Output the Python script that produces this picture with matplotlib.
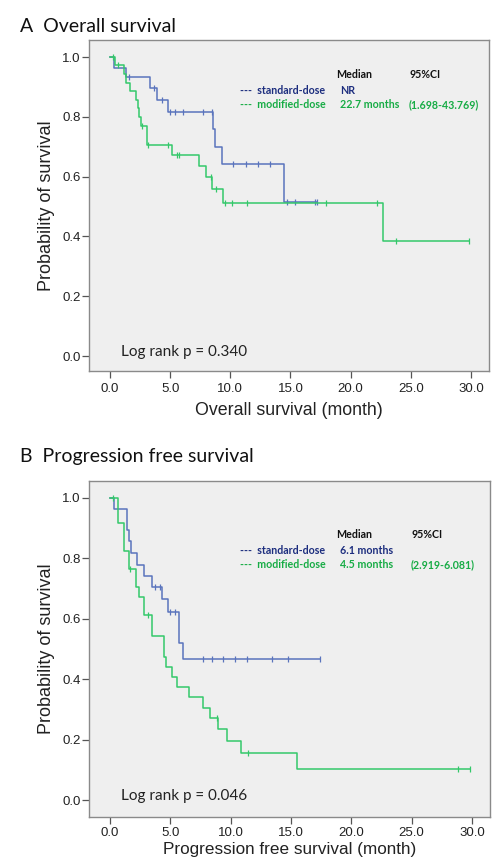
import numpy as np
import matplotlib
matplotlib.use('Agg')
import matplotlib.pyplot as plt

# ---------------- data ----------------
# Overall survival
os_std_times = [0.36, 1.33, 3.33, 3.88, 4.79, 8.53, 8.73, 9.28, 14.5]
os_std_surv = [0.964, 0.932, 0.895, 0.856, 0.816, 0.758, 0.698, 0.642, 0.514]
os_std_cens = [1.6, 3.68, 4.3, 5.0, 5.4, 6.04, 7.75, 8.44, 10.25, 11.3, 12.3,
               13.3, 14.7, 15.4, 17.0, 17.2]

os_mod_times = [0.4, 1.19, 1.3, 1.66, 2.16, 2.3, 2.45, 2.55, 3.05, 5.17, 7.42,
                7.95, 8.5, 9.42, 22.7]
os_mod_surv = [0.972, 0.943, 0.914, 0.886, 0.857, 0.829, 0.800, 0.771, 0.706,
               0.672, 0.635, 0.600, 0.559, 0.513, 0.385]
os_mod_cens = [0.28, 0.69, 2.63, 3.19, 4.85, 5.54, 5.74, 8.4, 8.8, 9.55, 10.1,
               11.35, 17.95, 22.2, 23.8, 29.8]

# Progression free survival
pfs_std_times = [0.36, 1.44, 1.57, 1.74, 2.26, 2.84, 3.45, 4.34, 4.78, 5.74, 6.08]
pfs_std_surv = [0.964, 0.893, 0.857, 0.817, 0.778, 0.742, 0.706, 0.664, 0.621,
                0.519, 0.466]
pfs_std_cens = [3.73, 4.14, 4.97, 5.39, 7.73, 8.42, 9.39, 10.36, 11.33, 13.4,
                14.72, 17.4]

pfs_mod_times = [0.69, 1.19, 1.6, 2.15, 2.43, 2.84, 3.5, 4.5, 4.64, 5.11, 5.58,
                 6.57, 7.68, 8.3, 8.92, 9.67, 10.9, 15.47]
pfs_mod_surv = [0.916, 0.824, 0.765, 0.706, 0.673, 0.613, 0.544, 0.475, 0.441,
                0.406, 0.373, 0.340, 0.306, 0.270, 0.234, 0.195, 0.155, 0.104]
pfs_mod_cens = [0.25, 1.65, 3.18, 8.88, 11.46, 28.86, 29.88]

x_ticks = [0, 5, 10, 15, 20, 25, 30]
y_ticks = [0.0, 0.2, 0.4, 0.6, 0.8, 1.0]

group_labels = ['standard-dose', 'modified-dose']
os_medians = ['NR', '22.7 months']
os_ci = ['', '(1.698-43.769)']
pfs_medians = ['6.1 months', '4.5 months']
pfs_ci = ['', '(2.919-6.081)']
os_p = 'Log rank p = 0.340'
pfs_p = 'Log rank p = 0.046'

# ---------------- style ----------------
W, H = 496, 859
BLUE_LINE = '#5a74bd'
GREEN_LINE = '#34c86a'
BLUE_TXT = '#1c2d7e'
GREEN_TXT = '#17ac45'
BG = '#efefef'
SANS = 'Liberation Sans'
CAL = 'Lato'

fig = plt.figure(figsize=(W / 100, H / 100), dpi=100)
fig.patch.set_facecolor('white')


def px(x, y):
    return x / W, 1 - y / H


def km(ax, times, surv, cens, color):
    t = np.r_[0.0, times]
    s = np.r_[1.0, surv]
    end = max(max(cens), max(times))
    ax.step(np.r_[t, end], np.r_[s, s[-1]], where='post', color=color, lw=1.1)
    idx = np.searchsorted(t, cens, side='right') - 1
    ax.plot(cens, s[idx], ls='none', marker='|', ms=5, mew=0.9, color=color)


def style(ax, xlabel, xlab_y, xfs, xpad):
    ax.set_facecolor(BG)
    for sp in ax.spines.values():
        sp.set_color('#8a8a8a')
        sp.set_linewidth(1.0)
    ax.set_xticks(x_ticks)
    ax.set_xticklabels([f'{v:.1f}' for v in x_ticks])
    ax.set_yticks(y_ticks)
    ax.set_yticklabels([f'{v:.1f}' for v in y_ticks])
    ax.tick_params(axis='both', direction='out', length=5, width=0.9,
                   color='#555555', labelsize=9.5, labelcolor='#222222')
    ax.tick_params(axis='y', pad=1)
    ax.tick_params(axis='x', pad=xpad)
    for lab in ax.get_xticklabels() + ax.get_yticklabels():
        lab.set_fontfamily(SANS)
    ax.set_xlabel(xlabel, fontsize=xfs, fontfamily=SANS, color='#222222')
    ax.set_ylabel('Probability of survival', fontsize=13, fontfamily=SANS,
                  color='#222222')
    ax.xaxis.set_label_coords(0.5, xlab_y)
    ax.yaxis.set_label_coords(-0.085, 0.5)


# ---------------- panel A ----------------
axA = fig.add_axes([89 / W, 1 - 371 / H, 400 / W, 331 / H])
km(axA, os_std_times, os_std_surv, os_std_cens, BLUE_LINE)
km(axA, os_mod_times, os_mod_surv, os_mod_cens, GREEN_LINE)
axA.set_xlim(-1.745, 31.5)
axA.set_ylim(-0.050, 1.057)
style(axA, 'Overall survival (month)', -0.094, 12.8, 4)
axA.text(0.89, 0.0, os_p, fontsize=11, fontfamily=CAL, color='#222222',
         va='baseline', ha='left')

# ---------------- panel B ----------------
axB = fig.add_axes([89 / W, 1 - 817 / H, 401 / W, 336 / H])
km(axB, pfs_std_times, pfs_std_surv, pfs_std_cens, BLUE_LINE)
km(axB, pfs_mod_times, pfs_mod_surv, pfs_mod_cens, GREEN_LINE)
axB.set_xlim(-1.74, 31.5)
axB.set_ylim(-0.056, 1.056)
style(axB, 'Progression free survival (month)', -0.074, 12.3, 2.5)
axB.text(0.89, 0.0, pfs_p, fontsize=11, fontfamily=CAL, color='#222222',
         va='baseline', ha='left')

# ---------------- titles ----------------
fig.text(*px(20, 32), 'A  Overall survival', fontsize=14, fontfamily=CAL,
         color='#111111', va='baseline', ha='left')
fig.text(*px(20, 462), 'B  Progression free survival', fontsize=14,
         fontfamily=CAL, color='#111111', va='baseline', ha='left')


# ---------------- legends ----------------
def legend(y0, xm, xc, medians, cis):
    kw = dict(fontsize=7.7, fontfamily=CAL, fontweight='bold', va='baseline',
              ha='left')
    fig.text(*px(xm - 4, y0), 'Median', color='#111111', **kw)
    fig.text(*px(xc + 1, y0), '95%CI', color='#111111', **kw)
    cols = [BLUE_TXT, GREEN_TXT]
    for i in range(2):
        yy = y0 + 15 + 14.5 * i
        fig.text(*px(240.5, yy), '---  ' + group_labels[i], color=cols[i], **kw)
        fig.text(*px(xm, yy), medians[i], color=cols[i], **kw)
        if cis[i]:
            fig.text(*px(xc, yy), cis[i], color=cols[i], **kw)


legend(78.5, 340, 409, os_medians, os_ci)
legend(538.5, 340, 410.5, pfs_medians, pfs_ci)

fig.savefig('out.png', dpi=100, facecolor='white')
